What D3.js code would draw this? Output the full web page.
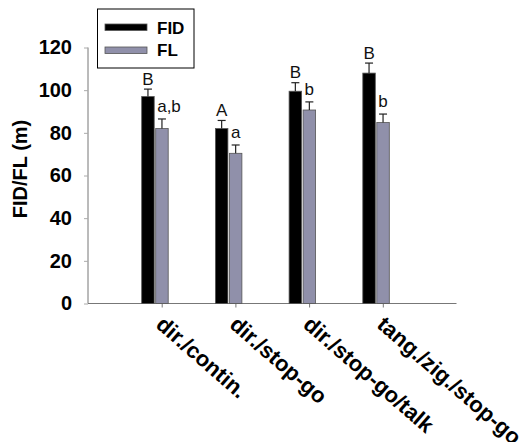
<!DOCTYPE html>
<html>
<head>
<meta charset="utf-8">
<script src="https://cdn.jsdelivr.net/npm/d3@7"></script>
<style>
  html, body { margin: 0; padding: 0; background: #fff; }
  svg { display: block; font-family: Arial, "Liberation Sans", sans-serif; }
</style>
</head>
<body>
<svg id="chart" width="524" height="442"></svg>
<script>
// Flight initiation distance (FID) and flight distance (FL) by approach type
const categories = ["dir./contin.", "dir./stop-go", "dir./stop-go/talk", "tang./zig./stop-go"];
const fidValues = [97, 82, 99.5, 108];
const fidErrors = [3.5, 3.8, 4, 4.7];
const flValues  = [82, 70.4, 90.7, 84.8];
const flErrors  = [4.5, 3.9, 3.8, 4];
const fidLetters = ["B", "A", "B", "B"];
const flLetters  = ["a,b", "a", "b", "b"];
const yTicks = [0, 20, 40, 60, 80, 100, 120];
const seriesNames = ["FID", "FL"];

const svg = d3.select("#chart");
const fidColor = "#000000";
const flColor = "#9090aa";
const axisColor = "#777";

// categories sit at positions 1..4 of a 0..5 axis
const x = d3.scaleLinear().domain([0, 5]).range([88, 456.5]);
const y = d3.scaleLinear().domain([0, 120]).range([303.5, 47.5]);

const barW = 12.5;
const fidOffset = -20;
const flOffset = -6;

// y axis
const yAxis = svg.append("g")
  .attr("transform", `translate(${x(0)},0)`)
  .call(d3.axisLeft(y).tickValues(yTicks).tickSize(4).tickPadding(12));
yAxis.select(".domain").attr("stroke", axisColor).attr("stroke-width", 1)
  .attr("d", `M0,${y(120)}V${y(0)}`);
yAxis.selectAll(".tick line").attr("stroke", "#aaa");
yAxis.selectAll("text")
  .attr("font-size", 20).attr("font-weight", "bold").attr("fill", "#000")
  .attr("font-family", "Arial, 'Liberation Sans', sans-serif");

// x axis
const xAxis = svg.append("g")
  .attr("transform", `translate(0,${y(0)})`)
  .call(d3.axisBottom(x).tickValues([1, 2, 3, 4]).tickSize(4).tickFormat(""));
xAxis.select(".domain").attr("stroke", axisColor).attr("stroke-width", 1)
  .attr("d", `M${x(0)},0H${x(5)}`);
xAxis.selectAll(".tick line").attr("stroke", axisColor);

// rotated category labels
svg.append("g").selectAll("text")
  .data(categories)
  .join("text")
  .attr("transform", (d, i) => `translate(${x(i + 1) - 7},${y(0) + 23}) rotate(41)`)
  .attr("font-size", 22).attr("font-weight", "bold")
  .attr("text-anchor", "start")
  .text(d => d);

// y axis title
svg.append("text")
  .attr("transform", `translate(27,169) rotate(-90)`)
  .attr("text-anchor", "middle")
  .attr("font-size", 20).attr("font-weight", "bold")
  .text("FID/FL (m)");

// bars, error bars and significance letters for each series
function drawSeries(values, errors, letters, offset, fill, letterAnchor, letterDx, letterGap) {
  const g = svg.append("g");
  g.selectAll("rect")
    .data(values)
    .join("rect")
    .attr("x", (d, i) => x(i + 1) + offset)
    .attr("y", d => y(d))
    .attr("width", barW)
    .attr("height", d => y(0) - y(d))
    .attr("fill", fill)
    .attr("stroke", "#555")
    .attr("stroke-width", 0.8);

  const eb = g.selectAll("g.err")
    .data(values)
    .join("g")
    .attr("class", "err");
  eb.append("line")
    .attr("x1", (d, i) => x(i + 1) + offset + barW / 2)
    .attr("x2", (d, i) => x(i + 1) + offset + barW / 2)
    .attr("y1", d => y(d))
    .attr("y2", (d, i) => y(d + errors[i]))
    .attr("stroke", "#222").attr("stroke-width", 1.2);
  eb.append("line")
    .attr("x1", (d, i) => x(i + 1) + offset + barW / 2 - 4)
    .attr("x2", (d, i) => x(i + 1) + offset + barW / 2 + 4)
    .attr("y1", (d, i) => y(d + errors[i]))
    .attr("y2", (d, i) => y(d + errors[i]))
    .attr("stroke", "#222").attr("stroke-width", 1.2);

  g.selectAll("text")
    .data(values)
    .join("text")
    .attr("x", (d, i) => letterAnchor === "middle" ? x(i + 1) + offset + barW / 2 : x(i + 1) + letterDx)
    .attr("y", (d, i) => y(d + errors[i]) - letterGap)
    .attr("text-anchor", letterAnchor)
    .attr("font-size", 17)
    .attr("fill", "#111")
    .text((d, i) => letters[i]);
}

drawSeries(fidValues, fidErrors, fidLetters, fidOffset, fidColor, "middle", 0, 4.5);
drawSeries(flValues, flErrors, flLetters, flOffset, flColor, "start", -4.5, 7);

// legend
const legend = svg.append("g");
legend.append("rect")
  .attr("x", 97.5).attr("y", 9).attr("width", 96.5).attr("height", 59)
  .attr("fill", "#fff").attr("stroke", "#000").attr("stroke-width", 1);
const legendColors = [fidColor, flColor];
seriesNames.forEach((name, i) => {
  legend.append("rect")
    .attr("x", 105).attr("y", 24 + i * 23).attr("width", 42).attr("height", 6.5)
    .attr("fill", legendColors[i]).attr("stroke", "#555").attr("stroke-width", 0.8);
  legend.append("text")
    .attr("x", 157).attr("y", 33.5 + i * 22.5)
    .attr("font-size", 17).attr("font-weight", "bold")
    .text(name);
});
</script>
</body>
</html>
